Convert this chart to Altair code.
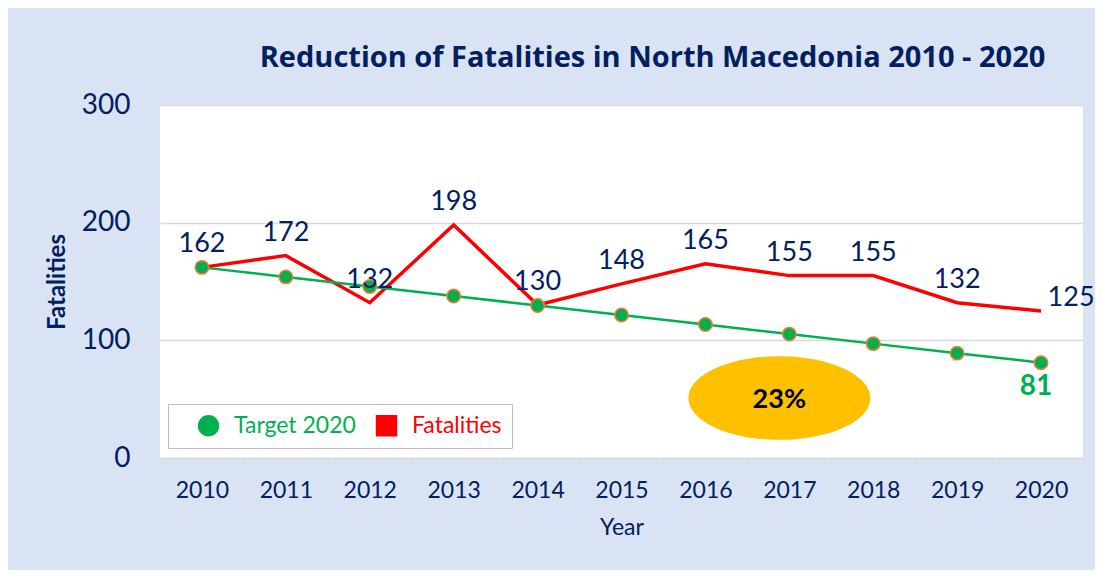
import altair as alt
import pandas as pd

years = ["2010", "2011", "2012", "2013", "2014", "2015", "2016", "2017", "2018", "2019", "2020"]
fatalities = [162, 172, 132, 198, 130, 148, 165, 155, 155, 132, 125]
target = [162, 153.9, 145.8, 137.7, 129.6, 121.5, 113.4, 105.3, 97.2, 89.1, 81]
series_names = ["Target 2020", "Fatalities"]
series_colors = ["#00b050", "#ff0000"]
series_shapes = ["circle", "square"]
y_ticks = [0, 100, 200, 300]
badge_year = ["2017"]
badge_value = [51]
badge_text = ["23%"]

NAVY = "#002060"
FONT = "Lato"

df = pd.DataFrame({"year": years, "fatalities": fatalities, "target": target,
                   "series": ["Target 2020"] * len(years)})
badge = pd.DataFrame({"year": badge_year, "value": badge_value, "label": badge_text})

xenc = alt.X("year:N", title="Year",
             scale=alt.Scale(type="band", paddingInner=0, paddingOuter=0),
             axis=alt.Axis(tickBand="extent", labelAngle=0, labelFontSize=23, labelFont=FONT,
                           labelColor=NAVY, labelPadding=14, tickSize=7, tickColor="#d9d9d9",
                           domainColor="#d9d9d9", domainWidth=1.5, grid=False,
                           titleFontSize=23, titleFont=FONT, titleColor=NAVY,
                           titleFontWeight="normal", titlePadding=14))
yscale = alt.Scale(domain=[0, 300], nice=False)
yaxis = alt.Axis(values=y_ticks, labelFontSize=28, labelFont=FONT, labelColor=NAVY,
                 labelPadding=30, ticks=False, domain=False, grid=True, gridColor="#d9d9d9",
                 gridWidth=1.5, titleFontSize=24, titleFont=FONT,
                 titleColor=NAVY, titleFontWeight="bold", titlePadding=12)


def yenc(field):
    return alt.Y(field, scale=yscale, axis=yaxis, title="Fatalities")


# blank (non-breaking space) legend title on the right widens the legend frame
legend_spacer = "\u00a0" * 28
legend = alt.Legend(title=legend_spacer, titleOrient="right", titlePadding=0,
                    titleFontSize=23, titleFont=FONT, labelLimit=400)

base = alt.Chart(df)

red_line = base.mark_line(color="#ff0000", strokeWidth=3.5).encode(
    x=xenc, y=yenc("fatalities:Q"))
green_line = base.mark_line(color="#00b050", strokeWidth=2.5).encode(
    x=xenc, y=yenc("target:Q"))
points = base.mark_point(filled=True, size=180, stroke="#ed7d31", strokeWidth=1.5,
                         opacity=1).encode(
    x=xenc, y=yenc("target:Q"),
    color=alt.Color("series:N", scale=alt.Scale(domain=series_names, range=series_colors),
                    legend=legend),
    shape=alt.Shape("series:N", scale=alt.Scale(domain=series_names, range=series_shapes),
                    legend=legend))

red_labels = base.mark_text(fontSize=27, font=FONT, color=NAVY, baseline="middle", dy=-23).encode(
    x=xenc, y=yenc("fatalities:Q"), text="fatalities:Q"
).transform_filter(alt.datum.year != "2020")
last_label = base.mark_text(fontSize=27, font=FONT, color=NAVY, baseline="middle",
                            dx=30, dy=-13).encode(
    x=xenc, y=yenc("fatalities:Q"), text="fatalities:Q"
).transform_filter(alt.datum.year == "2020")
target_label = base.mark_text(fontSize=28, font=FONT, fontWeight="bold", color="#00b050",
                              baseline="middle", dx=-5, dy=24).encode(
    x=xenc, y=yenc("target:Q"), text=alt.Text("target:Q", format=".0f")
).transform_filter(alt.datum.year == "2020")

ellipse = alt.Chart(badge).mark_point(
    shape="M-1,0 A1,0.46 0 1,1 1,0 A1,0.46 0 1,1 -1,0 Z", filled=True, fill="#ffc000",
    opacity=1, strokeWidth=0).encode(
    x=xenc, y=yenc("value:Q"),
    xOffset=alt.value(32), size=alt.value(33124))
badge_label = alt.Chart(badge).mark_text(fontSize=27, font=FONT, fontWeight="bold",
                                         color="#000000", baseline="middle", dx=-10, dy=2).encode(
    x=xenc, y=yenc("value:Q"), text="label:N")

chart = alt.layer(red_line, green_line, ellipse, badge_label, points, red_labels, last_label,
                  target_label).properties(
    width=923, height=353,
    autosize=alt.AutoSizeParams(type="none"),
    padding={"left": 152, "top": 97, "right": 12, "bottom": 112},
    title=alt.TitleParams("Reduction of Fatalities in North Macedonia 2010 - 2020",
                          font="Open Sans", fontSize=29, fontWeight="bold", color=NAVY,
                          anchor="middle", dx=31, offset=18),
    background="#dae3f3",
).configure_view(fill="white", stroke=None).configure_legend(
    orient="none", legendX=8, legendY=299, direction="horizontal",
    fillColor="white", strokeColor="#bfbfbf", padding=10,
    labelFont=FONT, labelFontSize=23,
    labelColor={"expr": "datum.label == 'Target 2020' ? '#00b050' : '#ff0000'"},
    symbolSize=460, symbolStrokeWidth=0, symbolOpacity=1, symbolOffset=19,
    columnPadding=0, labelOffset=14)

chart.save("out.html", embed_options={"renderer": "svg", "actions": False})
